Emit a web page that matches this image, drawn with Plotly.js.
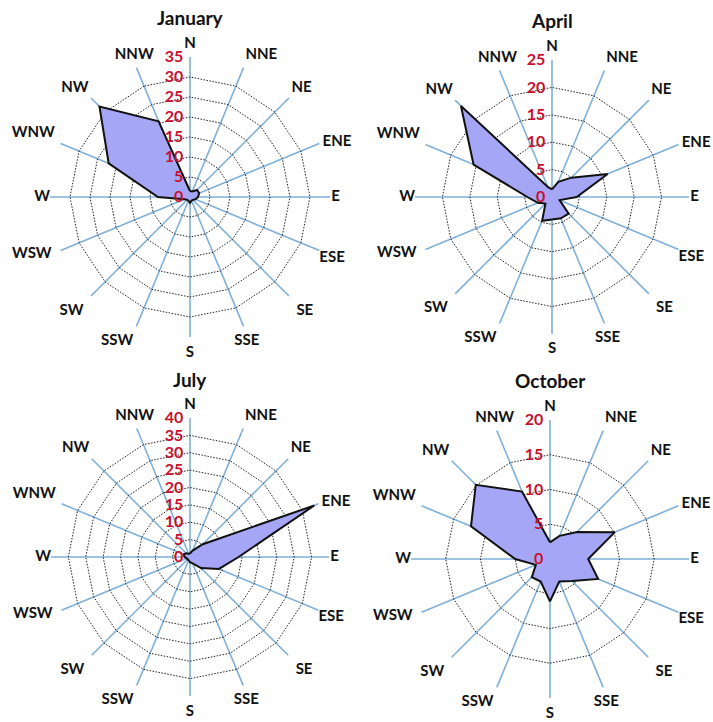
<!DOCTYPE html>
<html>
<head>
<meta charset="utf-8">
<script src="https://cdn.plot.ly/plotly-3.0.1.min.js"></script>
<style>html,body{margin:0;padding:0;background:#fff;}#chart{width:713px;height:722px;}</style>
</head>
<body>
<div id="chart"></div>
<script>
const directions = ['N','NNE','NE','ENE','E','ESE','SE','SSE','S','SSW','SW','WSW','W','WNW','NW','NNW'];
const january = [1.5,1.5,2.5,2.5,2,1.5,1,1,1.5,1,1,1.5,8,22,32,20.5];
const april   = [1.4,3,5,11,4.5,1.5,4.3,4.2,4.1,4.7,1.7,2.8,4.5,15.5,23.5,2];
const july    = [1,2,5.2,38.7,14,9,4.5,2,1.5,1,1,1,1.5,2,1.5,1];
const october = [2.4,3.6,5.5,10.1,5.5,7.5,4.5,3.5,6.1,3.5,3.7,2.2,5,12.3,15.1,10.5];
const months = ['January','April','July','October'];
const radialMax = [35,25,40,20];

// label styling: where each direction label sits relative to the outer vertex
const labelPositions = ['top center','top right','top right','middle right','middle right','bottom right','bottom right','bottom center',
                        'bottom center','bottom left','bottom left','middle left','middle left','top left','top left','top center'];
const labelPush = [1.04,1.035,1.025,1.025,1.01,1.0,1.075,1.06,1.06,1.06,1.075,1.07,1.0,1.045,1.025,1.04];
const LABEL_SCALE = 1.12;

const series = [january, april, july, october];
const polarNames = ['polar','polar2','polar3','polar4'];
const labelPolars = ['polar5','polar6','polar7','polar8'];
const domains = [
  {x:[0.0701,0.4628], y:[0.5332,0.9211]},
  {x:[0.5821,0.9663], y:[0.5374,0.9169]},
  {x:[0.0715,0.4614], y:[0.0360,0.4211]},
  {x:[0.5764,0.9663], y:[0.0332,0.4183]}
];
const titlePos = [[0.2665,0.976],[0.7742,0.972],[0.2665,0.475],[0.7714,0.473]];

function scaleRange(r, k) {
  const c = (r[0] + r[1]) / 2, h = (r[1] - r[0]) / 2 * k;
  return [c - h, c + h];
}

const FONT = 'Lato, "Open Sans", "DejaVu Sans", sans-serif';
const data = [];
series.forEach((vals, i) => {
  data.push({
    type: 'scatterpolar',
    r: vals.concat([vals[0]]),
    theta: directions.concat([directions[0]]),
    mode: 'lines',
    fill: 'toself',
    fillcolor: '#a6a6f7',
    line: {color: '#111111', width: 2},
    subplot: polarNames[i],
    hoverinfo: 'skip',
    showlegend: false
  });
  data.push({
    type: 'scatterpolar',
    r: labelPush.map(f => radialMax[i] * f),
    theta: directions,
    mode: 'text',
    text: directions.map(d => '<b>' + d + '</b>'),
    textposition: labelPositions,
    textfont: {size: 15, color: '#111', family: FONT},
    cliponaxis: false,
    subplot: labelPolars[i],
    hoverinfo: 'skip',
    showlegend: false
  });
});

const layout = {
  width: 713, height: 722,
  margin: {l:0, r:0, t:0, b:0},
  paper_bgcolor: '#ffffff',
  showlegend: false,
  font: {family: FONT, color: '#111'},
  annotations: months.map((m, i) => ({
    text: '<b>' + m + '</b>', x: titlePos[i][0], y: titlePos[i][1],
    xref: 'paper', yref: 'paper', showarrow: false, yanchor: 'middle', xanchor: 'center',
    font: {size: 19, family: FONT, color: '#111'}
  }))
};

polarNames.forEach((p, i) => {
  layout[p] = {
    domain: domains[i],
    gridshape: 'linear',
    bgcolor: 'rgba(0,0,0,0)',
    radialaxis: {
      range: [0, radialMax[i]],
      dtick: 5,
      angle: 90,
      side: 'counterclockwise',
      tickangle: 90,
      ticksuffix: ' ',
      showline: false,
      ticks: '',
      gridcolor: '#222222',
      griddash: '1.5px,1.5px',
      gridwidth: 1,
      tickfont: {size: 16, color: '#c8102e', family: FONT, weight: 'bold'}
    },
    angularaxis: {
      type: 'category',
      categoryarray: directions,
      direction: 'clockwise',
      rotation: 90,
      showline: false,
      showticklabels: false,
      ticks: '',
      gridcolor: '#7fb0da',
      gridwidth: 1.6
    }
  };
  layout[labelPolars[i]] = {
    domain: {x: scaleRange(domains[i].x, LABEL_SCALE), y: scaleRange(domains[i].y, LABEL_SCALE)},
    bgcolor: 'rgba(0,0,0,0)',
    radialaxis: {range: [0, radialMax[i] * LABEL_SCALE], visible: false},
    angularaxis: {
      type: 'category', categoryarray: directions,
      direction: 'clockwise', rotation: 90, visible: false
    }
  };
});

Plotly.newPlot('chart', data, layout, {displayModeBar: false, staticPlot: true});
</script>
</body>
</html>
